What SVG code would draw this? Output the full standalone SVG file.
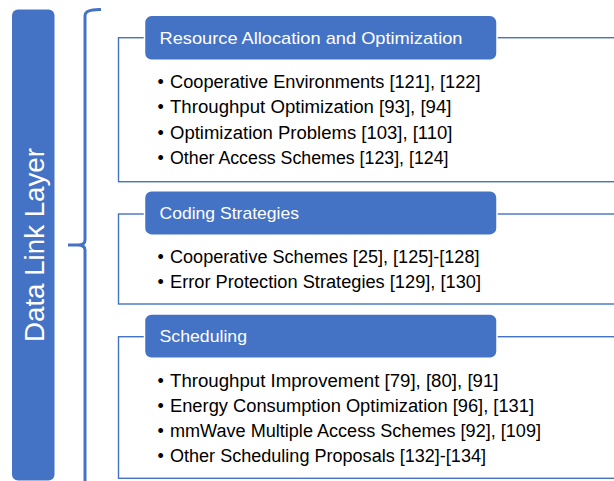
<svg xmlns="http://www.w3.org/2000/svg" width="614" height="481" viewBox="0 0 614 481">
<style>
.hdr{fill:#4472C4;stroke:#fff;stroke-width:1.5}
.frame{fill:none;stroke:#4472C4;stroke-width:1.4}
.ht{font-family:"Liberation Sans",Arial,sans-serif;font-size:17px;fill:#fff}
.it{font-family:"Liberation Sans",Arial,sans-serif;font-size:18px;fill:#000}
.bul{font-family:"Liberation Sans",Arial,sans-serif;font-size:18px;fill:#000}
.brace{fill:none;stroke:#4472C4;stroke-width:3;stroke-linecap:butt}
</style>
<rect width="614" height="481" fill="#fff"/>
<g id="layer">
<rect x="12" y="9.5" width="42.5" height="471" rx="6" fill="#4472C4"/>
<text transform="translate(44,245) rotate(-90)" text-anchor="middle" font-family="Liberation Sans,Arial,sans-serif" font-size="27.5" fill="#fff" textLength="194" lengthAdjust="spacingAndGlyphs">Data Link Layer</text>
</g>
<g id="connectors">
<path class="brace" d="M101,9.5 C92,10 85,10 85,16 L85,240 C85,244 82,245 78,245 L68,245 M78,245 C82,245 85,246 85,250 L85,482"/>
</g>
<g id="resource">
<rect class="frame" x="118.5" y="37.7" width="510" height="144"/>
<rect class="hdr" x="144.5" y="15.3" width="352.5" height="45" rx="7"/>
<text class="ht" x="159.5" y="44" textLength="303" lengthAdjust="spacingAndGlyphs">Resource Allocation and Optimization</text>
<text class="bul" x="157.5" y="87.5">•</text>
<text class="it" x="170" y="87.5" textLength="310.5" lengthAdjust="spacingAndGlyphs">Cooperative Environments [121], [122]</text>
<text class="bul" x="157.5" y="113">•</text>
<text class="it" x="170" y="113" textLength="281.5" lengthAdjust="spacingAndGlyphs">Throughput Optimization [93], [94]</text>
<text class="bul" x="157.5" y="138.5">•</text>
<text class="it" x="170" y="138.5" textLength="282.5" lengthAdjust="spacingAndGlyphs">Optimization Problems [103], [110]</text>
<text class="bul" x="157.5" y="164">•</text>
<text class="it" x="170" y="164" textLength="278.5" lengthAdjust="spacingAndGlyphs">Other Access Schemes [123], [124]</text>
</g>
<g id="coding">
<rect class="frame" x="118.5" y="214" width="510" height="90"/>
<rect class="hdr" x="144.5" y="190.7" width="352.5" height="44.5" rx="7"/>
<text class="ht" x="159.5" y="219" textLength="139.5" lengthAdjust="spacingAndGlyphs">Coding Strategies</text>
<text class="bul" x="157.5" y="263">•</text>
<text class="it" x="170" y="263" textLength="309.5" lengthAdjust="spacingAndGlyphs">Cooperative Schemes [25], [125]-[128]</text>
<text class="bul" x="157.5" y="287.5">•</text>
<text class="it" x="170" y="287.5" textLength="311" lengthAdjust="spacingAndGlyphs">Error Protection Strategies [129], [130]</text>
</g>
<g id="scheduling">
<rect class="frame" x="118.5" y="336.7" width="510" height="141.6"/>
<rect class="hdr" x="144.5" y="314" width="352.5" height="44.3" rx="7"/>
<text class="ht" x="159.5" y="342" textLength="87.5" lengthAdjust="spacingAndGlyphs">Scheduling</text>
<text class="bul" x="157.5" y="387">•</text>
<text class="it" x="170" y="387" textLength="328.5" lengthAdjust="spacingAndGlyphs">Throughput Improvement [79], [80], [91]</text>
<text class="bul" x="157.5" y="412">•</text>
<text class="it" x="170" y="412" textLength="364" lengthAdjust="spacingAndGlyphs">Energy Consumption Optimization [96], [131]</text>
<text class="bul" x="157.5" y="437">•</text>
<text class="it" x="170" y="437" textLength="371" lengthAdjust="spacingAndGlyphs">mmWave Multiple Access Schemes [92], [109]</text>
<text class="bul" x="157.5" y="462">•</text>
<text class="it" x="170" y="462" textLength="316" lengthAdjust="spacingAndGlyphs">Other Scheduling Proposals [132]-[134]</text>
</g>
</svg>
